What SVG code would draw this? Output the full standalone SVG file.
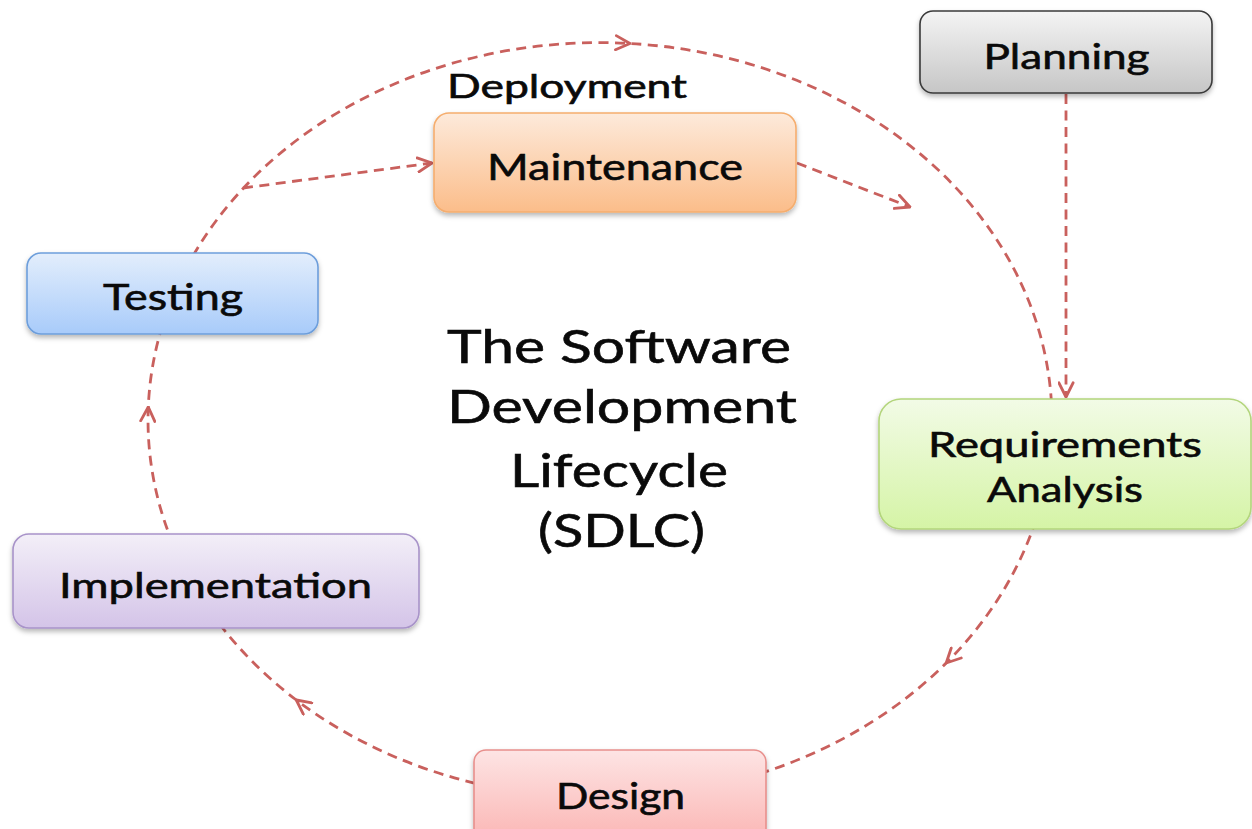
<svg xmlns="http://www.w3.org/2000/svg" width="1252" height="829" viewBox="0 0 1252 829">
<style>
  .conn { fill: none; stroke: #c9605d; stroke-width: 2.8; stroke-dasharray: 10 6.5; }
  .box { filter: url(#sh); stroke-width: 1.6; }
  .lbl { font-family: Lato, "Open Sans", "Liberation Sans", sans-serif; fill: #0a0a0a; stroke: #0a0a0a; stroke-width: 0.6; text-anchor: middle; }
</style>
<defs>
  <filter id="sh" x="-10%" y="-15%" width="120%" height="145%">
    <feDropShadow dx="0" dy="3" stdDeviation="2.5" flood-color="#000" flood-opacity="0.28"/>
  </filter>
  <marker id="ah" viewBox="0 0 12 12" refX="11" refY="6" markerWidth="17" markerHeight="17" markerUnits="userSpaceOnUse" orient="auto">
    <path d="M1,1 L11,6 L1,11" fill="none" stroke="#c9605d" stroke-width="2" stroke-linecap="round" stroke-linejoin="round"/>
  </marker>
  <linearGradient id="gPlan" x1="0" y1="0" x2="0" y2="1"><stop offset="0" stop-color="#f4f4f4"/><stop offset="1" stop-color="#c6c6c6"/></linearGradient>
  <linearGradient id="gMaint" x1="0" y1="0" x2="0" y2="1"><stop offset="0" stop-color="#fdeadb"/><stop offset="1" stop-color="#fbbd8a"/></linearGradient>
  <linearGradient id="gReq" x1="0" y1="0" x2="0" y2="1"><stop offset="0" stop-color="#f2fbe6"/><stop offset="1" stop-color="#d5f4a6"/></linearGradient>
  <linearGradient id="gTest" x1="0" y1="0" x2="0" y2="1"><stop offset="0" stop-color="#e3eefc"/><stop offset="1" stop-color="#a8cbfa"/></linearGradient>
  <linearGradient id="gImpl" x1="0" y1="0" x2="0" y2="1"><stop offset="0" stop-color="#f3eff8"/><stop offset="1" stop-color="#d4c4e8"/></linearGradient>
  <linearGradient id="gDes" x1="0" y1="0" x2="0" y2="1"><stop offset="0" stop-color="#fde4e4"/><stop offset="1" stop-color="#fbb4b2"/></linearGradient>
</defs>
<rect width="1252" height="829" fill="#ffffff"/>

<g id="connectors">
  <path class="conn" marker-mid="url(#ah)" d="M171.4 300 A452 378 0 0 1 630 43.5 A452 378 0 0 1 1051.9 415"/>
  <path class="conn" marker-mid="url(#ah)" d="M1035.9 520 A452 378 0 0 1 946.2 663 A452 378 0 0 1 692.5 790"/>
  <path class="conn" marker-mid="url(#ah)" d="M507.5 790 A452 378 0 0 1 296.3 700 A452 378 0 0 1 202.6 600"/>
  <path class="conn" marker-mid="url(#ah)" d="M180.1 560 A452 378 0 0 1 148.3 407 A452 378 0 0 1 171.4 300"/>
  <path class="conn" marker-end="url(#ah)" d="M243 188 L432 163"/>
  <path class="conn" marker-end="url(#ah)" d="M797 163 L910 207"/>
  <path class="conn" marker-end="url(#ah)" d="M1066 94 L1066 397"/>
</g>

<g id="deployment-label">
  <text class="lbl" x="567" y="98" font-size="32" textLength="240" lengthAdjust="spacingAndGlyphs">Deployment</text>
</g>

<g id="planning">
  <rect class="box" x="920" y="11" width="292" height="82" rx="13" fill="url(#gPlan)" stroke="#3a3a3a"/>
  <text class="lbl" x="1066.5" y="69" font-size="34" textLength="166" lengthAdjust="spacingAndGlyphs">Planning</text>
</g>

<g id="maintenance">
  <rect class="box" x="434" y="113" width="362" height="99" rx="15" fill="url(#gMaint)" stroke="#f5ad6e"/>
  <text class="lbl" x="615" y="180" font-size="37" textLength="256" lengthAdjust="spacingAndGlyphs">Maintenance</text>
</g>

<g id="requirements">
  <rect class="box" x="879" y="399" width="372" height="130" rx="22" fill="url(#gReq)" stroke="#b3d57c"/>
  <text class="lbl" x="1065" y="457" font-size="34" textLength="274" lengthAdjust="spacingAndGlyphs">Requirements</text>
  <text class="lbl" x="1065" y="502" font-size="34" textLength="156" lengthAdjust="spacingAndGlyphs">Analysis</text>
</g>

<g id="testing">
  <rect class="box" x="27" y="253" width="291" height="81" rx="14" fill="url(#gTest)" stroke="#6d9edb"/>
  <text class="lbl" x="173" y="310" font-size="36" textLength="140" lengthAdjust="spacingAndGlyphs">Testing</text>
</g>

<g id="implementation">
  <rect class="box" x="13" y="534" width="406" height="94" rx="16" fill="url(#gImpl)" stroke="#a893c9"/>
  <text class="lbl" x="215.5" y="598" font-size="35" textLength="313" lengthAdjust="spacingAndGlyphs">Implementation</text>
</g>

<g id="design">
  <rect class="box" x="474" y="750" width="292" height="95" rx="12" fill="url(#gDes)" stroke="#e88f8c"/>
  <text class="lbl" x="620.5" y="809" font-size="36" textLength="129" lengthAdjust="spacingAndGlyphs">Design</text>
</g>

<g id="title">
  <text class="lbl" x="619" y="363" font-size="46" textLength="344" lengthAdjust="spacingAndGlyphs">The Software</text>
  <text class="lbl" x="622" y="423" font-size="46" textLength="350" lengthAdjust="spacingAndGlyphs">Development</text>
  <text class="lbl" x="619" y="487" font-size="46" textLength="218" lengthAdjust="spacingAndGlyphs">Lifecycle</text>
  <text class="lbl" x="621.5" y="547" font-size="46" textLength="167" lengthAdjust="spacingAndGlyphs">(SDLC)</text>
</g>
</svg>
